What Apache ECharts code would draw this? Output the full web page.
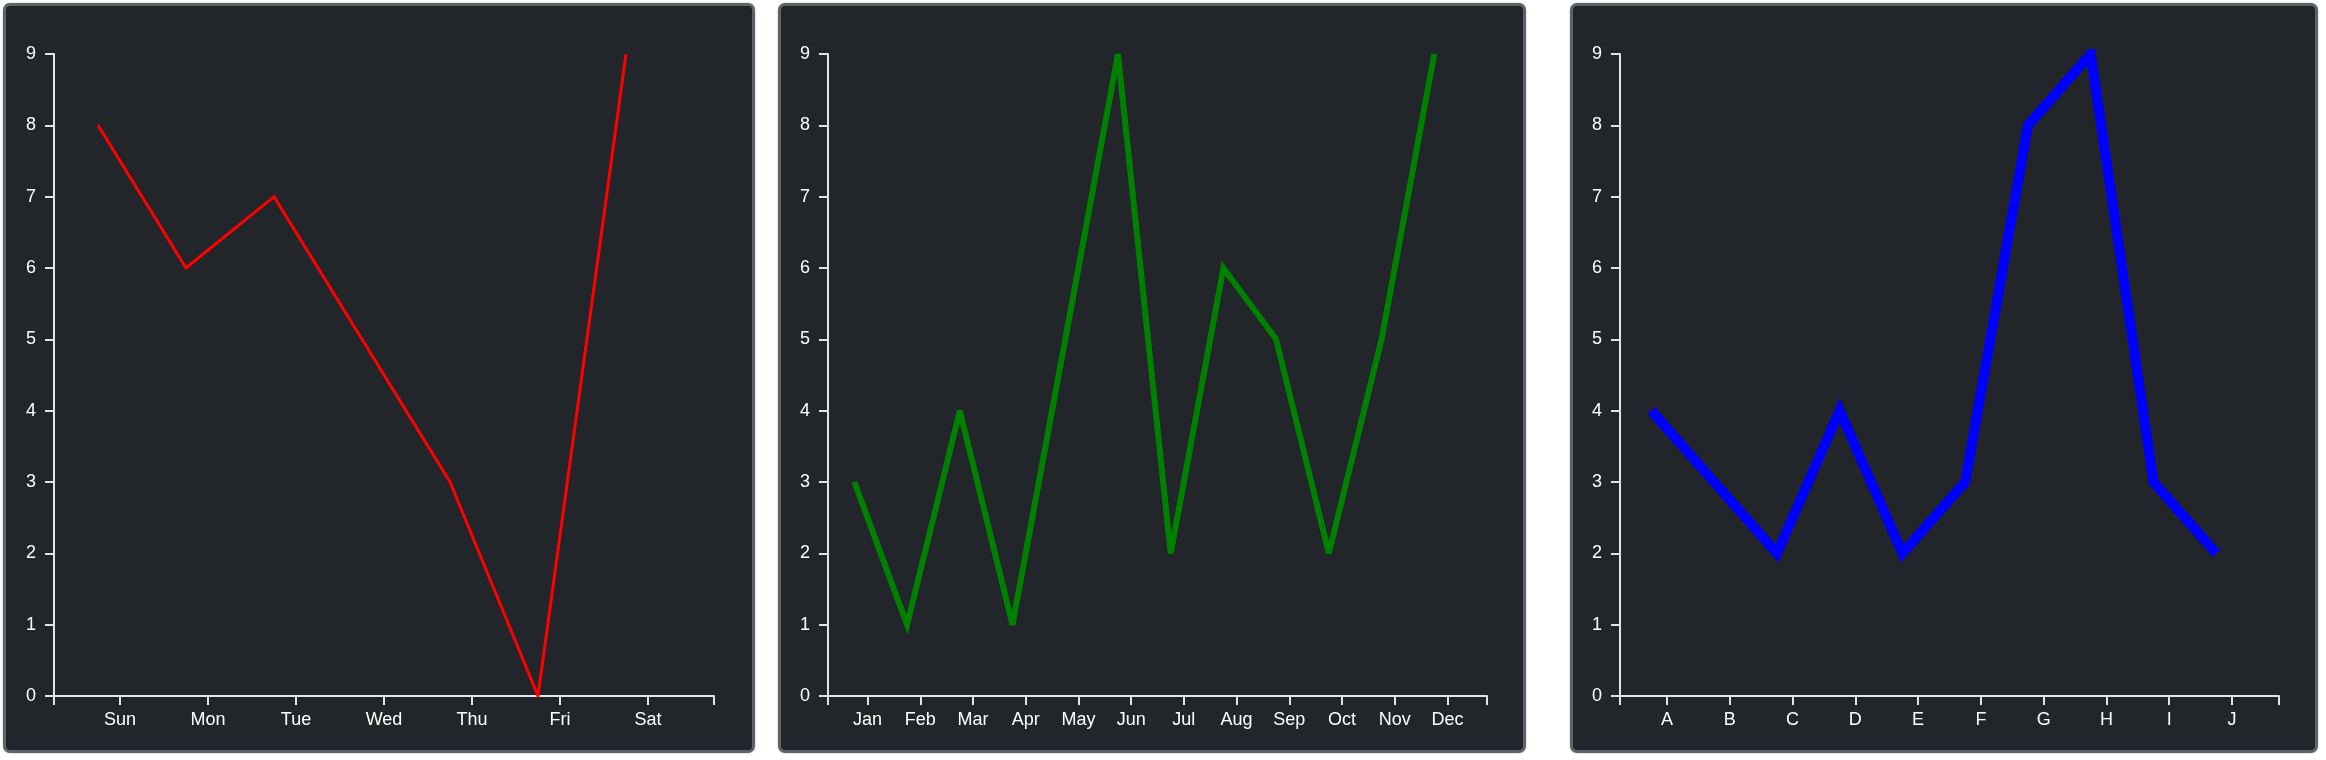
<!DOCTYPE html>
<html>
<head>
<meta charset="utf-8">
<script src="https://cdn.jsdelivr.net/npm/echarts@6/dist/echarts.min.js"></script>
<style>
  html, body { margin: 0; padding: 0; background: #ffffff; width: 2326px; height: 760px; overflow: hidden; }
  .panel { position: absolute; box-sizing: border-box; background: #222529; border: 3px solid #5e636a; border-radius: 7px; box-shadow: 0 0 2px rgba(0,0,0,0.35); }
  #chart { position: absolute; left: 0; top: 0; width: 2326px; height: 760px; }
</style>
</head>
<body>
<div class="panel" style="left:3px;top:3px;width:752px;height:750px;"></div>
<div class="panel" style="left:778px;top:3px;width:748px;height:750px;"></div>
<div class="panel" style="left:1570px;top:3px;width:748px;height:750px;"></div>
<div id="chart"></div>
<script>
// ---- data ----
const days = ['Sun', 'Mon', 'Tue', 'Wed', 'Thu', 'Fri', 'Sat'];
const dayValues = [8, 6, 7, 5, 3, 0, 9];

const months = ['Jan', 'Feb', 'Mar', 'Apr', 'May', 'Jun', 'Jul', 'Aug', 'Sep', 'Oct', 'Nov', 'Dec'];
const monthValues = [3, 1, 4, 1, 5, 9, 2, 6, 5, 2, 5, 9];

const letters = ['A', 'B', 'C', 'D', 'E', 'F', 'G', 'H', 'I', 'J'];
const letterValues = [4, 3, 2, 4, 2, 3, 8, 9, 3, 2];

const yTicks = [0, 1, 2, 3, 4, 5, 6, 7, 8, 9];

// ---- layout / style ----
const panels = [
  { cats: days, vals: dayValues, color: '#ff0000', width: 3, left: 54, len: 660 },
  { cats: months, vals: monthValues, color: '#008000', width: 6, left: 828, len: 659 },
  { cats: letters, vals: letterValues, color: '#0000ff', width: 10, left: 1620, len: 659 }
];
const TOP = 54, BOTTOM = 696;
const FONT = 'Liberation Sans, Arial, sans-serif';
const AXIS_COLOR = '#e4e4e4';
const LABEL_COLOR = '#ffffff';

const grid = [], xAxis = [], yAxis = [], series = [];
panels.forEach((p) => {
  const n = p.cats.length;
  const step = p.len / (n + 0.5);
  const gA = grid.length;
  grid.push({ left: p.left, top: TOP, width: p.len, height: BOTTOM - TOP });
  grid.push({ left: p.left + 0.25 * step, top: TOP, width: p.len - 0.5 * step, height: BOTTOM - TOP });
  const gB = gA + 1;

  // grid A: domain line with outer ticks
  xAxis.push({
    type: 'category', gridIndex: gA, data: [''], boundaryGap: true,
    axisLine: { show: true, onZero: false, lineStyle: { color: AXIS_COLOR, width: 2 } },
    axisTick: { show: true, length: 9, lineStyle: { color: AXIS_COLOR, width: 2 } },
    axisLabel: { show: false }, splitLine: { show: false }
  });
  // grid A: hidden value axis used to place the line
  const xA2 = xAxis.length;
  xAxis.push({ type: 'value', gridIndex: gA, min: -0.5, max: n, show: false, splitLine: { show: false } });
  // grid B: category ticks + labels
  xAxis.push({
    type: 'category', gridIndex: gB, data: p.cats, boundaryGap: true,
    axisLine: { show: false, onZero: false },
    axisTick: { show: true, alignWithLabel: true, length: 9, lineStyle: { color: AXIS_COLOR, width: 2 } },
    axisLabel: { show: true, color: LABEL_COLOR, fontSize: 18, fontFamily: FONT, margin: 15, interval: 0 },
    splitLine: { show: false }
  });

  const yA = yAxis.length;
  yAxis.push({
    type: 'value', gridIndex: gA, min: yTicks[0], max: yTicks[yTicks.length - 1], interval: 1,
    axisLine: { show: true, onZero: false, lineStyle: { color: AXIS_COLOR, width: 2 } },
    axisTick: { show: true, length: 9, lineStyle: { color: AXIS_COLOR, width: 2 } },
    axisLabel: { show: true, color: LABEL_COLOR, fontSize: 18, fontFamily: FONT, margin: 18 },
    splitLine: { show: false }
  });
  yAxis.push({ type: 'value', gridIndex: gB, min: 0, max: 9, show: false, axisLine: { onZero: false }, splitLine: { show: false } });

  series.push({
    type: 'line', xAxisIndex: xA2, yAxisIndex: yA,
    data: p.vals.map((v, i) => [i, v]),
    symbol: 'none', silent: true,
    lineStyle: { color: p.color, width: p.width, join: 'miter', miterLimit: 4 },
    z: 5
  });
});

const chart = echarts.init(document.getElementById('chart'), null, { renderer: 'canvas' });
chart.setOption({ animation: false, backgroundColor: 'transparent', grid, xAxis, yAxis, series });
</script>
</body>
</html>
